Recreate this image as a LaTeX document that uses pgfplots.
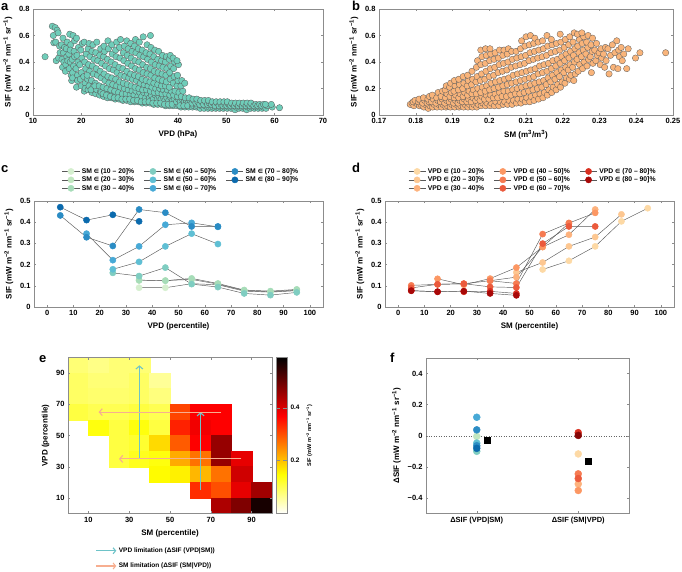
\documentclass[border=0pt]{standalone}
\usepackage{fontspec}
\setmainfont{Liberation Sans}
\newfontfamily\djv{DejaVu Sans}
\usepackage{pgfplots}
\pgfplotsset{compat=1.18}
\usetikzlibrary{arrows.meta}

\definecolor{afill}{HTML}{6FCDB9}
\definecolor{bfill}{HTML}{F9B47A}
\definecolor{c1}{HTML}{D5EFCF}
\definecolor{c2}{HTML}{C1E7C0}
\definecolor{c3}{HTML}{A6DCB8}
\definecolor{c4}{HTML}{7FCDC1}
\definecolor{c5}{HTML}{5FBFD4}
\definecolor{c6}{HTML}{47A9D6}
\definecolor{c7}{HTML}{2B8CC4}
\definecolor{c8}{HTML}{0B6AAD}
\definecolor{d1}{HTML}{FDD9A5}
\definecolor{d2}{HTML}{FDC791}
\definecolor{d3}{HTML}{FDB27D}
\definecolor{d4}{HTML}{FC9763}
\definecolor{d5}{HTML}{F67B52}
\definecolor{d6}{HTML}{EB5A3C}
\definecolor{d7}{HTML}{D92F20}
\definecolor{d8}{HTML}{A80808}
\definecolor{tealarr}{HTML}{6EC3C8}
\definecolor{salarr}{HTML}{F7AE90}

\newcommand{\sifu}{(mW m\textsuperscript{−2} nm\textsuperscript{−1} sr\textsuperscript{−1})}
\newcommand{\inn}{{\djv\fontsize{5.8}{6}\selectfont ∈}}

\pgfdeclareplotmark{cell}{\pgfpathrectangle{\pgfqpoint{-10.3pt}{-7.9pt}}{\pgfqpoint{20.6pt}{15.8pt}}\pgfusepathqfillstroke}

\pgfplotsset{
 base/.style={scale only axis, axis line style={black!45, line width=0.5pt},
  every tick/.style={black!45, line width=0.4pt}, tick align=inside, major tick length=2.2pt,
  tick label style={font=\bfseries\fontsize{7.5}{8}\selectfont},
  label style={font=\bfseries\fontsize{8}{9}\selectfont},
  /pgf/number format/assume math mode=true, /pgf/number format/fixed},
 lc/.style={gray!70!black, line width=0.45pt, mark=*, mark size=3.1pt, mark options={draw=#1, fill=#1, solid}},
 fp/.style={only marks, mark=*, mark size=3.5pt, mark options={draw=#1, fill=#1}, forget plot},
 leg/.style={legend columns=3, transpose legend, legend cell align=left,
  legend style={draw=none, fill=none, inner sep=0pt, row sep=-2pt, font=\bfseries\fontsize{6.8}{6.8}\selectfont,
   /tikz/every even column/.append style={column sep=8pt}}},
 colormap={revhot}{rgb(0pt)=(1,1,1); rgb(2pt)=(1,1,0); rgb(5pt)=(1,0,0); rgb(8pt)=(0,0,0)}
}

\begin{document}
\begin{tikzpicture}

% a
\begin{axis}[base, at={(33pt,-115pt)}, anchor=south west, width=290pt, height=106pt,
 xmin=10, xmax=70, ymin=0, ymax=0.8, xtick={10,20,...,70}, ytick={0,0.2,...,0.8},
 xlabel={VPD (hPa)}, ylabel={SIF \sifu}]
\addplot[only marks, mark=*, mark size=3.2pt, mark options={fill=afill, draw=black!65, line width=0.3pt}] coordinates {
(12.5,0.44)
(14.0,0.67) (14.3,0.545) (14.2,0.60) (14.6,0.66) (14.8,0.41) (15.0,0.64) (14.7,0.55)
(15.3,0.43) (15.5,0.52) (15.2,0.62) (15.6,0.47)
(16.0,0.42) (16.3,0.47) (15.9,0.53) (16.2,0.58) (16.4,0.40) (16.1,0.36) (16.5,0.51)
(16.8,0.38) (17.0,0.44) (16.9,0.50) (17.1,0.55) (16.7,0.33) (17.2,0.41)
(17.5,0.35) (17.7,0.40) (17.4,0.46) (17.8,0.53) (17.6,0.61) (17.9,0.30) (18.0,0.26) (17.7,0.49)
(18.2,0.32) (18.4,0.37) (18.1,0.42) (18.5,0.48) (18.3,0.60) (18.6,0.56) (18.2,0.28) (18.6,0.44)
(19.0,0.21) (19.2,0.30) (18.9,0.35) (19.3,0.40) (19.1,0.45) (19.4,0.51) (19.0,0.58) (19.2,0.26)
(19.8,0.27) (20.0,0.32) (19.7,0.38) (20.1,0.43) (19.9,0.49) (20.2,0.54) (20.0,0.22)
(20.6,0.18) (20.8,0.24) (20.5,0.29) (20.9,0.35) (20.7,0.40) (21.0,0.46) (20.6,0.55) (20.8,0.20)
(21.4,0.19) (21.6,0.22) (21.3,0.27) (21.7,0.33) (21.5,0.38) (21.8,0.44) (21.4,0.50) (21.6,0.54) (21.2,0.30)
(22.2,0.17) (22.4,0.21) (22.1,0.26) (22.5,0.31) (22.3,0.37) (22.6,0.42) (22.2,0.48) (22.4,0.53) (22.0,0.19)
(23.0,0.16) (23.2,0.19) (22.9,0.24) (23.3,0.30) (23.1,0.35) (23.4,0.41) (23.0,0.47) (23.2,0.55) (22.8,0.22)
(23.8,0.15) (24.0,0.18) (23.7,0.22) (24.1,0.28) (23.9,0.33) (24.2,0.39) (23.8,0.45) (24.0,0.50) (24.1,0.17)
(24.6,0.14) (24.8,0.17) (24.5,0.21) (24.9,0.26) (24.7,0.31) (25.0,0.37) (24.6,0.44) (24.8,0.48) (24.7,0.52) (24.5,0.16)
(25.4,0.13) (25.6,0.16) (25.3,0.20) (25.7,0.24) (25.5,0.29) (25.8,0.35) (25.4,0.42) (25.6,0.50) (25.5,0.56) (25.2,0.15)
(26.2,0.13) (26.4,0.15) (26.1,0.19) (26.5,0.23) (26.3,0.28) (26.6,0.34) (26.2,0.40) (26.4,0.46) (26.3,0.53) (26.0,0.14)
(27.0,0.12) (27.2,0.15) (26.9,0.18) (27.3,0.22) (27.1,0.27) (27.4,0.32) (27.0,0.38) (27.2,0.44) (27.1,0.49) (27.3,0.55) (26.8,0.13)
(27.8,0.12) (28.0,0.14) (27.7,0.17) (28.1,0.21) (27.9,0.25) (28.2,0.30) (27.8,0.36) (28.0,0.43) (27.9,0.51) (28.1,0.57) (27.6,0.13)
(28.6,0.11) (28.8,0.14) (28.5,0.16) (28.9,0.20) (28.7,0.24) (29.0,0.29) (28.6,0.35) (28.8,0.41) (28.7,0.47) (28.9,0.52) (28.4,0.12)
(29.4,0.11) (29.6,0.13) (29.3,0.16) (29.7,0.19) (29.5,0.23) (29.8,0.28) (29.4,0.33) (29.6,0.39) (29.5,0.45) (29.7,0.50) (29.4,0.56) (29.2,0.12)
(30.2,0.10) (30.4,0.13) (30.1,0.15) (30.5,0.18) (30.3,0.22) (30.6,0.27) (30.2,0.31) (30.4,0.37) (30.3,0.43) (30.5,0.48) (30.2,0.54) (30.0,0.12)
(31.0,0.10) (31.2,0.12) (30.9,0.15) (31.3,0.18) (31.1,0.21) (31.4,0.26) (31.0,0.30) (31.2,0.35) (31.1,0.41) (31.3,0.47) (31.0,0.52) (31.2,0.57) (30.8,0.11)
(31.8,0.10) (32.0,0.12) (31.7,0.14) (32.1,0.17) (31.9,0.20) (32.2,0.24) (31.8,0.29) (32.0,0.34) (31.9,0.40) (32.1,0.45) (31.8,0.50) (32.0,0.55) (31.6,0.11)
(32.6,0.09) (32.8,0.11) (32.5,0.14) (32.9,0.17) (32.7,0.19) (33.0,0.23) (32.6,0.27) (32.8,0.32) (32.7,0.38) (32.9,0.44) (32.6,0.49) (32.8,0.59) (32.4,0.10)
(33.4,0.09) (33.6,0.11) (33.3,0.13) (33.7,0.16) (33.5,0.19) (33.8,0.22) (33.4,0.26) (33.6,0.31) (33.5,0.36) (33.7,0.42) (33.4,0.47) (33.6,0.53) (33.2,0.10)
(34.2,0.09) (34.4,0.11) (34.1,0.13) (34.5,0.15) (34.3,0.18) (34.6,0.21) (34.2,0.25) (34.4,0.30) (34.3,0.35) (34.5,0.40) (34.2,0.46) (34.4,0.51) (34.3,0.60) (34.0,0.10)
(35.0,0.08) (35.2,0.10) (34.9,0.12) (35.3,0.15) (35.1,0.17) (35.4,0.20) (35.0,0.24) (35.2,0.28) (35.1,0.33) (35.3,0.38) (35.0,0.44) (35.2,0.49) (34.8,0.09)
(35.8,0.08) (36.0,0.10) (35.7,0.12) (36.1,0.14) (35.9,0.17) (36.2,0.20) (35.8,0.23) (36.0,0.27) (35.9,0.32) (36.1,0.37) (35.8,0.42) (36.0,0.48) (35.6,0.09)
(36.6,0.08) (36.8,0.10) (36.5,0.12) (36.9,0.14) (36.7,0.16) (37.0,0.19) (36.6,0.22) (36.8,0.26) (36.7,0.31) (36.9,0.36) (36.6,0.41) (36.8,0.45) (36.4,0.09)
(37.4,0.07) (37.6,0.09) (37.3,0.11) (37.7,0.13) (37.5,0.16) (37.8,0.19) (37.4,0.22) (37.6,0.25) (37.5,0.30) (37.7,0.35) (37.4,0.40) (37.6,0.44) (37.2,0.08)
(38.2,0.07) (38.4,0.09) (38.1,0.11) (38.5,0.13) (38.3,0.15) (38.6,0.18) (38.2,0.21) (38.4,0.27) (38.3,0.32) (38.5,0.37) (38.2,0.42) (38.4,0.45) (38.0,0.08)
(39.0,0.07) (39.2,0.09) (38.9,0.11) (39.3,0.12) (39.1,0.15) (39.4,0.18) (39.0,0.24) (39.2,0.29) (39.1,0.35) (39.3,0.40) (39.0,0.43) (38.8,0.08)
(39.8,0.07) (40.0,0.08) (39.7,0.10) (40.1,0.12) (39.9,0.14) (40.2,0.17) (39.8,0.22) (40.0,0.26) (39.9,0.30) (40.1,0.38) (39.8,0.41)
(40.6,0.06) (40.8,0.08) (40.5,0.10) (40.9,0.12) (40.7,0.14) (41.0,0.18) (40.6,0.22) (40.8,0.26) (40.4,0.07)
(41.4,0.06) (41.6,0.08) (41.3,0.10) (41.7,0.11) (41.5,0.13) (41.4,0.24) (41.2,0.07)
(42.2,0.06) (42.4,0.08) (42.1,0.09) (42.5,0.11) (42.3,0.13) (42.0,0.07)
(43.0,0.06) (43.2,0.07) (42.9,0.09) (43.3,0.11) (43.1,0.12)
(43.8,0.06) (44.0,0.07) (43.7,0.09) (44.1,0.10) (43.9,0.12)
(44.6,0.05) (44.8,0.07) (44.5,0.08) (44.9,0.10) (44.7,0.11)
(45.4,0.05) (45.6,0.07) (45.3,0.08) (45.7,0.10) (45.5,0.11)
(46.2,0.05) (46.4,0.06) (46.1,0.08) (46.5,0.09) (46.3,0.11)
(47.0,0.05) (47.2,0.06) (46.9,0.08) (47.3,0.09) (47.1,0.10)
(47.8,0.05) (48.0,0.06) (47.7,0.07) (48.1,0.09) (47.9,0.10)
(48.6,0.05) (48.8,0.06) (48.5,0.07) (48.9,0.08) (48.7,0.10)
(49.4,0.05) (49.6,0.06) (49.3,0.07) (49.7,0.08) (49.5,0.10)
(50.2,0.05) (50.4,0.06) (50.1,0.07) (50.5,0.08) (50.3,0.09) (50.2,0.10)
(51.0,0.05) (51.2,0.06) (50.9,0.07) (51.3,0.08) (51.1,0.09)
(51.8,0.04) (52.0,0.06) (51.7,0.07) (52.1,0.08) (51.9,0.09)
(52.6,0.05) (52.8,0.06) (52.5,0.07) (52.9,0.08) (52.7,0.09)
(53.4,0.05) (53.6,0.06) (53.3,0.07) (53.7,0.08) (53.5,0.09)
(54.2,0.04) (54.4,0.06) (54.1,0.07) (54.5,0.08) (54.3,0.09)
(55.0,0.05) (55.2,0.06) (54.9,0.07) (55.3,0.08) (55.1,0.09)
(55.8,0.05) (56.0,0.06) (55.7,0.07) (56.1,0.08)
(56.6,0.05) (56.8,0.06) (56.5,0.07) (56.9,0.08)
(57.4,0.05) (57.6,0.06) (57.3,0.07) (57.7,0.08)
(58.2,0.05) (58.4,0.07) (58.1,0.08)
(59.5,0.06) (59.3,0.08)
(61.0,0.055)
};
\end{axis}

% b
\begin{axis}[base, at={(379pt,-115pt)}, anchor=south west, width=294pt, height=106pt,
 xmin=0.17, xmax=0.25, ymin=0, ymax=0.8, xtick={0.17,0.18,...,0.25}, ytick={0,0.2,...,0.8},
 xticklabel style={/pgf/number format/precision=2},
 xlabel={SM (m\textsuperscript{3}/m\textsuperscript{3})}, ylabel={SIF \sifu}]
\addplot[only marks, mark=*, mark size=3.2pt, mark options={fill=bfill, draw=black!65, line width=0.3pt}] coordinates {
(0.1785,0.08) (0.1790,0.09)
(0.1795,0.07) (0.1800,0.09) (0.1793,0.10) (0.1798,0.11)
(0.1810,0.07) (0.1814,0.08) (0.1807,0.10) (0.1812,0.11) (0.1809,0.12)
(0.1822,0.06) (0.1826,0.08) (0.1819,0.09) (0.1824,0.11) (0.1821,0.13)
(0.1834,0.05) (0.1838,0.07) (0.1831,0.09) (0.1836,0.10) (0.1833,0.12) (0.1837,0.14)
(0.1846,0.06) (0.1850,0.08) (0.1843,0.10) (0.1848,0.12) (0.1845,0.15)
(0.1858,0.06) (0.1862,0.08) (0.1855,0.09) (0.1860,0.11) (0.1857,0.13) (0.1861,0.17)
(0.1870,0.06) (0.1874,0.08) (0.1867,0.10) (0.1872,0.12) (0.1869,0.14) (0.1873,0.18)
(0.1882,0.06) (0.1886,0.07) (0.1879,0.09) (0.1884,0.11) (0.1881,0.13) (0.1885,0.16) (0.1880,0.19) (0.1883,0.22)
(0.1894,0.06) (0.1898,0.08) (0.1891,0.10) (0.1896,0.12) (0.1893,0.14) (0.1897,0.17) (0.1892,0.21) (0.1895,0.24)
(0.1906,0.06) (0.1910,0.08) (0.1903,0.09) (0.1908,0.11) (0.1905,0.13) (0.1909,0.15) (0.1904,0.18) (0.1907,0.22) (0.1905,0.26)
(0.1918,0.06) (0.1922,0.07) (0.1915,0.09) (0.1920,0.11) (0.1917,0.13) (0.1921,0.16) (0.1916,0.19) (0.1919,0.23) (0.1917,0.27)
(0.1930,0.06) (0.1934,0.08) (0.1927,0.10) (0.1932,0.12) (0.1929,0.14) (0.1933,0.17) (0.1928,0.20) (0.1931,0.24) (0.1929,0.29)
(0.1942,0.06) (0.1946,0.08) (0.1939,0.10) (0.1944,0.12) (0.1941,0.15) (0.1945,0.18) (0.1940,0.22) (0.1943,0.26) (0.1941,0.30)
(0.1954,0.06) (0.1958,0.08) (0.1951,0.10) (0.1956,0.13) (0.1953,0.16) (0.1957,0.19) (0.1952,0.23) (0.1955,0.27) (0.1953,0.33)
(0.1966,0.06) (0.1970,0.08) (0.1963,0.11) (0.1968,0.13) (0.1965,0.16) (0.1969,0.20) (0.1964,0.25) (0.1967,0.29) (0.1965,0.36) (0.1968,0.41)
(0.1978,0.07) (0.1982,0.09) (0.1975,0.11) (0.1980,0.14) (0.1977,0.17) (0.1981,0.21) (0.1976,0.26) (0.1979,0.31) (0.1977,0.38) (0.1980,0.44) (0.1977,0.49)
(0.1990,0.07) (0.1994,0.09) (0.1987,0.12) (0.1992,0.15) (0.1989,0.18) (0.1993,0.22) (0.1988,0.27) (0.1991,0.33) (0.1989,0.39) (0.1992,0.45) (0.1990,0.50)
(0.2002,0.07) (0.2006,0.09) (0.1999,0.12) (0.2004,0.15) (0.2001,0.19) (0.2005,0.24) (0.2000,0.29) (0.2003,0.35) (0.2001,0.41) (0.2004,0.46) (0.2002,0.50)
(0.2014,0.07) (0.2018,0.10) (0.2011,0.13) (0.2016,0.16) (0.2013,0.20) (0.2017,0.25) (0.2012,0.30) (0.2015,0.36) (0.2013,0.42) (0.2016,0.47)
(0.2026,0.07) (0.2030,0.10) (0.2023,0.13) (0.2028,0.17) (0.2025,0.21) (0.2029,0.26) (0.2024,0.32) (0.2027,0.38) (0.2025,0.43) (0.2028,0.49)
(0.2038,0.08) (0.2042,0.10) (0.2035,0.14) (0.2040,0.18) (0.2037,0.22) (0.2041,0.27) (0.2036,0.33) (0.2039,0.39) (0.2037,0.45) (0.2040,0.49)
(0.2050,0.08) (0.2054,0.11) (0.2047,0.14) (0.2052,0.18) (0.2049,0.23) (0.2053,0.28) (0.2048,0.34) (0.2051,0.40) (0.2049,0.46) (0.2052,0.50)
(0.2062,0.08) (0.2066,0.11) (0.2059,0.15) (0.2064,0.19) (0.2061,0.24) (0.2065,0.30) (0.2060,0.36) (0.2063,0.42) (0.2061,0.48)
(0.2074,0.09) (0.2078,0.12) (0.2071,0.16) (0.2076,0.20) (0.2073,0.25) (0.2077,0.31) (0.2072,0.37) (0.2075,0.43) (0.2073,0.48)
(0.2086,0.09) (0.2090,0.12) (0.2083,0.16) (0.2088,0.21) (0.2085,0.26) (0.2089,0.32) (0.2084,0.38) (0.2087,0.44) (0.2085,0.50) (0.2088,0.56)
(0.2098,0.10) (0.2102,0.13) (0.2095,0.17) (0.2100,0.22) (0.2097,0.27) (0.2101,0.33) (0.2096,0.39) (0.2099,0.45) (0.2097,0.52) (0.2100,0.59)
(0.2110,0.10) (0.2114,0.14) (0.2107,0.18) (0.2112,0.23) (0.2109,0.28) (0.2113,0.34) (0.2108,0.41) (0.2111,0.47) (0.2109,0.53) (0.2112,0.60)
(0.2122,0.11) (0.2126,0.15) (0.2119,0.19) (0.2124,0.24) (0.2121,0.29) (0.2125,0.35) (0.2120,0.42) (0.2123,0.48) (0.2121,0.54) (0.2124,0.58)
(0.2134,0.12) (0.2138,0.16) (0.2131,0.20) (0.2136,0.25) (0.2133,0.31) (0.2137,0.37) (0.2132,0.43) (0.2135,0.49) (0.2133,0.55)
(0.2146,0.13) (0.2150,0.17) (0.2143,0.21) (0.2148,0.26) (0.2145,0.32) (0.2149,0.38) (0.2144,0.44) (0.2147,0.50) (0.2145,0.56)
(0.2158,0.15) (0.2162,0.19) (0.2155,0.23) (0.2160,0.28) (0.2157,0.33) (0.2161,0.39) (0.2156,0.45) (0.2159,0.52) (0.2157,0.60)
(0.2170,0.17) (0.2174,0.21) (0.2167,0.25) (0.2172,0.30) (0.2169,0.35) (0.2173,0.41) (0.2168,0.47) (0.2171,0.53) (0.2169,0.57)
(0.2182,0.19) (0.2186,0.23) (0.2179,0.27) (0.2184,0.32) (0.2181,0.37) (0.2185,0.42) (0.2180,0.48) (0.2183,0.54)
(0.2194,0.21) (0.2198,0.25) (0.2191,0.29) (0.2196,0.34) (0.2193,0.39) (0.2197,0.44) (0.2192,0.49) (0.2195,0.55) (0.2193,0.61)
(0.2206,0.24) (0.2210,0.28) (0.2203,0.32) (0.2208,0.36) (0.2205,0.41) (0.2209,0.46) (0.2204,0.51) (0.2207,0.57)
(0.2218,0.27) (0.2222,0.30) (0.2215,0.34) (0.2220,0.38) (0.2217,0.43) (0.2221,0.48) (0.2216,0.53) (0.2219,0.59)
(0.2230,0.26) (0.2234,0.31) (0.2227,0.36) (0.2232,0.40) (0.2229,0.45) (0.2233,0.50) (0.2228,0.55) (0.2231,0.62)
(0.2242,0.33) (0.2246,0.38) (0.2239,0.42) (0.2244,0.47) (0.2241,0.52) (0.2245,0.57) (0.2240,0.61)
(0.2254,0.35) (0.2258,0.40) (0.2251,0.44) (0.2256,0.49) (0.2253,0.54) (0.2257,0.59) (0.2252,0.62)
(0.2266,0.37) (0.2270,0.42) (0.2263,0.46) (0.2268,0.51) (0.2265,0.55) (0.2269,0.60)
(0.2278,0.32) (0.2282,0.39) (0.2275,0.44) (0.2280,0.48) (0.2277,0.53) (0.2281,0.58)
(0.2290,0.41) (0.2294,0.45) (0.2287,0.49) (0.2292,0.54)
(0.2302,0.38) (0.2306,0.43) (0.2299,0.47) (0.2304,0.50)
(0.2314,0.36) (0.2318,0.41) (0.2311,0.46) (0.2316,0.51)
(0.2326,0.31) (0.2330,0.45) (0.2323,0.50)
(0.2338,0.36) (0.2342,0.47) (0.2335,0.53)
(0.2350,0.35) (0.2354,0.44) (0.2347,0.56) (0.2352,0.49)
(0.2362,0.41) (0.2366,0.46) (0.2359,0.51)
(0.2374,0.35) (0.2378,0.50)
(0.2398,0.43) (0.2410,0.47) (0.2480,0.47)
};
\end{axis}

% c
\begin{axis}[base, leg, at={(34pt,-307pt)}, anchor=south west, width=289pt, height=106pt,
 xmin=-5, xmax=105, ymin=0, ymax=0.5, xtick={0,10,...,100}, ytick={0,0.1,...,0.5},
 xlabel={VPD (percentile)}, ylabel={SIF \sifu},
 legend style={at={(0.097,1.33)}, anchor=north west}]
\addplot[lc=c1] coordinates {(35,0.091) (45,0.091) (55,0.11) (65,0.105) (75,0.075) (85,0.07) (95,0.077)};
\addplot[lc=c2] coordinates {(35,0.125) (45,0.125) (55,0.13) (65,0.108) (75,0.078) (85,0.072) (95,0.08)};
\addplot[lc=c3] coordinates {(35,0.127) (45,0.124) (55,0.135) (65,0.111) (75,0.08) (85,0.075) (95,0.083)};
\addplot[lc=c4] coordinates {(25,0.161) (35,0.146) (45,0.186) (55,0.108) (65,0.094) (75,0.064) (85,0.056) (95,0.069)};
\addplot[lc=c5] coordinates {(25,0.178) (35,0.213) (45,0.286) (55,0.346) (65,0.297)};
\addplot[lc=c6] coordinates {(15,0.346) (25,0.221) (35,0.286) (45,0.388) (55,0.397) (65,0.378)};
\addplot[lc=c7] coordinates {(5,0.432) (15,0.329) (25,0.288) (35,0.46) (45,0.445) (55,0.38) (65,0.38)};
\addplot[lc=c8] coordinates {(5,0.471) (15,0.41) (25,0.435) (35,0.404)};
\legend{SM \inn\ (10 – 20]\%, SM \inn\ (20 – 30]\%, SM \inn\ (30 – 40]\%, SM \inn\ (40 – 50]\%,
 SM \inn\ (50 – 60]\%, SM \inn\ (60 – 70]\%, SM \inn\ (70 – 80]\%, SM \inn\ (80 – 90]\%}
\end{axis}

% d
\begin{axis}[base, leg, at={(385pt,-307pt)}, anchor=south west, width=289pt, height=106pt,
 xmin=-5, xmax=105, ymin=0, ymax=0.5, xtick={0,10,...,100}, ytick={0,0.1,...,0.5},
 xlabel={SM (percentile)}, ylabel={SIF \sifu},
 legend style={at={(0.08,1.33)}, anchor=north west}]
\addplot[lc=d1] coordinates {(55,0.177) (65,0.218) (75,0.286) (85,0.404) (95,0.466)};
\addplot[lc=d2] coordinates {(45,0.163) (55,0.21) (65,0.286) (75,0.33) (85,0.437)};
\addplot[lc=d3] coordinates {(35,0.124) (45,0.141) (55,0.283) (65,0.341) (75,0.46)};
\addplot[lc=d4] coordinates {(15,0.133) (25,0.105) (35,0.134) (45,0.186) (55,0.283) (65,0.396) (75,0.444)};
\addplot[lc=d5] coordinates {(5,0.102) (15,0.107) (25,0.11) (35,0.124) (45,0.111) (55,0.344) (65,0.396)};
\addplot[lc=d6] coordinates {(5,0.09) (15,0.107) (25,0.11) (35,0.095) (45,0.092) (55,0.299) (65,0.38) (75,0.38)};
\addplot[lc=d7] coordinates {(5,0.077) (15,0.072) (25,0.072) (35,0.074) (45,0.064)};
\addplot[lc=d8] coordinates {(5,0.077) (15,0.072) (25,0.075) (35,0.064) (45,0.055)};
\legend{VPD \inn\ (10 – 20]\%, VPD \inn\ (20 – 30]\%, VPD \inn\ (30 – 40]\%, VPD \inn\ (40 – 50]\%,
 VPD \inn\ (50 – 60]\%, VPD \inn\ (60 – 70]\%, VPD \inn\ (70 – 80]\%, VPD \inn\ (80 – 90]\%}
\end{axis}

% e
\begin{axis}[base, at={(68pt,-513.5pt)}, anchor=south west, width=204pt, height=156pt,
 xmin=0, xmax=100, ymin=0, ymax=100, xtick={10,30,...,90}, ytick={10,30,...,90},
 axis on top, clip mode=individual, xlabel={SM (percentile)}, ylabel={VPD (percentile)},
 colormap name=revhot, point meta min=0, point meta max=0.59,
 colorbar, colorbar style={at={(1.0196,1)}, anchor=north west, width=11pt,
  ytick={0.2,0.4}, yticklabel pos=right, axis line style={black!45}, every tick/.style={black!45},
  tick label style={font=\bfseries\fontsize{6.5}{7}\selectfont},
  /pgf/number format/assume math mode=true,
  ylabel={SIF \sifu}, ylabel style={font=\bfseries\fontsize{5.5}{6}\selectfont}},
 legend cell align=left,
 legend style={at={(0.135,-0.205)}, anchor=north west, draw=none, fill=none, inner sep=0pt, row sep=5pt,
  font=\bfseries\fontsize{6.5}{7}\selectfont}]
\addplot[scatter, only marks, mark=cell, point meta=explicit,
 scatter/use mapped color={draw=mapped color, fill=mapped color}, forget plot] table[meta=v] {
x y v
5 95 0.08
15 95 0.07
25 95 0.08
35 95 0.08
5 85 0.09
15 85 0.08
25 85 0.08
35 85 0.09
45 85 0.06
5 75 0.09
15 75 0.085
25 75 0.085
35 75 0.09
45 75 0.075
5 65 0.11
15 65 0.10
25 65 0.10
35 65 0.11
45 65 0.10
55 65 0.31
65 65 0.37
75 65 0.37
15 55 0.14
25 55 0.11
35 55 0.14
45 55 0.11
55 55 0.34
65 55 0.38
75 55 0.37
25 45 0.11
35 45 0.12
45 45 0.18
55 45 0.29
65 45 0.37
75 45 0.46
25 35 0.11
35 35 0.13
45 35 0.14
55 35 0.22
65 35 0.27
75 35 0.46
85 35 0.39
45 25 0.15
55 25 0.16
65 25 0.21
75 25 0.27
85 25 0.41
65 15 0.33
75 15 0.30
85 15 0.39
95 15 0.45
75 5 0.44
85 5 0.48
95 5 0.57
};
\addplot[tealarr, line width=1.1pt, -{Straight Barb[length=3pt,width=7pt]}, forget plot] coordinates {(35,35) (35,95)};
\addplot[tealarr, line width=1.1pt, -{Straight Barb[length=3pt,width=7pt]}, forget plot] coordinates {(65,15) (65,65)};
\addplot[salarr, line width=1.1pt, -{Straight Barb[length=3pt,width=7pt]}, forget plot] coordinates {(75,65) (15,65)};
\addplot[salarr, line width=1.1pt, -{Straight Barb[length=3pt,width=7pt]}, forget plot] coordinates {(85,35) (25,35)};
\addlegendimage{legend image code/.code={\draw[tealarr, line width=1.1pt, -{Straight Barb[length=2.5pt,width=6pt]}] (0pt,0pt) -- (20pt,0pt);}}
\addlegendentry{VPD limitation (ΔSIF (VPD|SM))}
\addlegendimage{legend image code/.code={\draw[salarr, line width=1.1pt, -{Straight Barb[length=2.5pt,width=6pt]}] (0pt,0pt) -- (20pt,0pt);}}
\addlegendentry{SM limitation (ΔSIF (SM|VPD))}
\end{axis}

% f
\begin{axis}[base, at={(426pt,-513.5pt)}, anchor=south west, width=203pt, height=155.5pt,
 xmin=0.5, xmax=2.5, ymin=-0.5, ymax=0.5, xtick={1,2}, ytick={-0.4,-0.2,0,0.2,0.4},
 yticklabels={−0.4,−0.2,0,0.2,0.4},
 xticklabels={ΔSIF (VPD|SM), ΔSIF (SM|VPD)},
 ylabel={ΔSIF \sifu}]
\addplot[black!60, dotted, line width=0.5pt, forget plot] coordinates {(0.5,0) (2.5,0)};
\addplot[fp=c4] coordinates {(1,-0.1)};
\addplot[fp=c2] coordinates {(1,-0.004)};
\addplot[fp=c5] coordinates {(1,-0.047)};
\addplot[fp=c6] coordinates {(1,0.119)};
\addplot[fp=c7] coordinates {(1,0.038)};
\addplot[fp=c7] coordinates {(1,-0.064)};
\addplot[fp=c8] coordinates {(1,-0.081)};
\addplot[fp=d1] coordinates {(2,-0.117)};
\addplot[fp=d3] coordinates {(2,-0.31)};
\addplot[fp=d4] coordinates {(2,-0.352)};
\addplot[fp=d5] coordinates {(2,-0.245)};
\addplot[fp=d6] coordinates {(2,-0.275)};
\addplot[fp=d7] coordinates {(2,0.02)};
\addplot[fp=d8!80!black] coordinates {(2,0.002)};
\addplot[only marks, mark=square*, mark size=2.8pt, black] coordinates {(1.1,-0.03) (2.1,-0.164)};
\end{axis}

\begin{scope}[every node/.style={font=\bfseries\fontsize{13}{13}\selectfont, anchor=base west, inner sep=0pt}]
\node at (1pt,-10.5pt) {a};
\node at (352pt,-10.5pt) {b};
\node at (1pt,-172pt) {c};
\node at (352pt,-172pt) {d};
\node at (39pt,-362pt) {e};
\node at (390pt,-362pt) {f};
\end{scope}
\pgfresetboundingbox
\path[use as bounding box] (0pt,0pt) rectangle (682pt,-571pt);
\end{tikzpicture}
\end{document}
